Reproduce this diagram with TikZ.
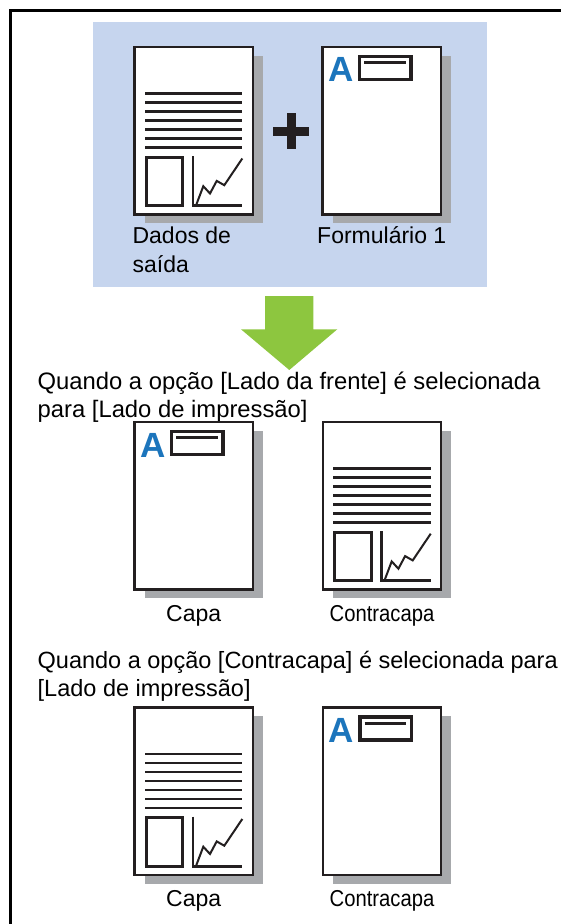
\documentclass[tikz,border=0pt]{standalone}
\usepackage{fontspec}
\setmainfont{Liberation Sans}
\usepackage{graphicx}
\usetikzlibrary{calc,shadows}
\definecolor{panelblue}{HTML}{C6D5EE}
\definecolor{arrowgreen}{HTML}{8DC63F}
\definecolor{markblue}{HTML}{1C75BC}
\definecolor{inkline}{HTML}{231F20}
\definecolor{shadowgray}{HTML}{A7A9AC}
\tikzset{
  sheet/.style={draw=inkline, line width=2.5pt, fill=white, inner sep=0pt, anchor=north west,
    minimum width=118.2pt, minimum height=167.5pt,
    drop shadow={shadow xshift=10pt, shadow yshift=-9pt, opacity=1, fill=shadowgray}},
  textrule/.style={draw=inkline, line width=2.9pt},
  markA/.style={font=\fontsize{35}{35}\selectfont\bfseries, text=markblue, inner sep=0pt},
  lbl/.style={font=\fontsize{23}{28}\selectfont, inner sep=0pt},
  para/.style={font=\fontsize{23.8}{28}\selectfont, inner sep=0pt, anchor=base west},
  pics/textsheet/.style={code={
    \foreach \k in {0,...,6}
      \draw[textrule] (11.7,48+9*\k) -- (109,48+9*\k);
    \draw[textrule] (13.05,111.75) rectangle (49.35,160.05);
    \draw[textrule] (59.7,110.5) -- (59.7,160.05) -- (109,160.05);
    \draw[inkline, line width=2pt] (62.7,160) -- (70,140.7) -- (76.7,148) -- (83.4,135.4) -- (91,139.7) -- (109,113);
  }},
  pics/formsheet/.style={code={
    \node[markA, anchor=base west] (-mark) at (7,36.4) {A};
    \draw[inkline, line width=3.5pt] (38.2,10.8) rectangle (89.6,33.9);
    \draw[inkline, line width=3pt] (43,17) -- (84.7,17);
  }}}
\begin{document}
\begin{tikzpicture}[x=1pt, y=-1pt]
  \useasboundingbox (0,0) rectangle (561,924);
  % frame and input panel
  \draw[line width=3pt] (10.5,924) -- (10.5,10.5) -- (561,10.5);
  \fill[panelblue] (93,22) rectangle (487,287);
  \node[sheet] (data) at (133.3,45.5) {};
  \pic (dataP) at (data.north west) {textsheet};
  \node[sheet] (form) at (321.3,45.5) {};
  \pic (formP) at (form.north west) {formsheet};
  \draw[inkline, line width=9pt] (273,131) -- (309,131) (291,113) -- (291,148.5);
  \node[lbl, anchor=base west] (datalbl) at (132.4,243.3) {Dados de};
  \node[lbl, anchor=base west] (datalbl2) at (132.4,272.5) {saída};
  \node[lbl, anchor=base west] (formlbl) at (317,243.3) {Formulário 1};
  % result arrow
  \fill[arrowgreen] (265,296) -- (313.3,296) -- (313.3,329.3) -- (337.3,329.3) -- (289.3,370)
    -- (241,329.3) -- (265,329.3) -- cycle;
  % front side selected
  \node[para] (front1) at (37.5,389) {Quando a opção [Lado da frente] é selecionada};
  \node[para] (front2) at (37.5,417) {para [Lado de impressão]};
  \node[sheet] (cover1) at (133.3,420.7) {};
  \pic (cover1P) at (cover1.north west) {formsheet};
  \node[sheet] (back1) at (321.7,420.7) {};
  \pic (back1P) at (back1.north west) {textsheet};
  \node[lbl, anchor=base] (cover1lbl) at ($(cover1.south)+(0,31)$) {Capa};
  \node[lbl, anchor=base] (back1lbl) at ($(back1.south)+(0,31)$) {\scalebox{0.88}[1]{Contracapa}};
  % back cover selected
  \node[para, font=\fontsize{23.5}{28}\selectfont] (back1txt) at (37.5,668) {Quando a opção [Contracapa] é selecionada para};
  \node[para, font=\fontsize{23.5}{28}\selectfont] (back2txt) at (37.5,696) {[Lado de impressão]};
  \node[sheet] (cover2) at (133.3,706) {};
  \pic (cover2P) at (cover2.north west) {textsheet};
  \node[sheet] (back2) at (321.7,706) {};
  \pic (back2P) at (back2.north west) {formsheet};
  \node[lbl, anchor=base] (cover2lbl) at ($(cover2.south)+(0,30)$) {Capa};
  \node[lbl, anchor=base] (back2lbl) at ($(back2.south)+(0,30)$) {\scalebox{0.88}[1]{Contracapa}};
\end{tikzpicture}
\end{document}
